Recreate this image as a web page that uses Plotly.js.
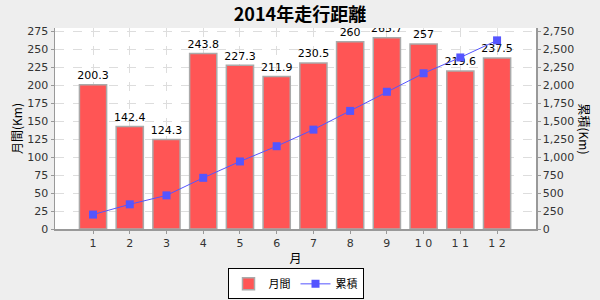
<!DOCTYPE html>
<html><head><meta charset="utf-8">
<script src="https://cdn.plot.ly/plotly-3.0.1.min.js"></script>
<style>html,body{margin:0;padding:0;background:#eeeeee;}</style>
</head><body>
<div id="chart" style="width:600px;height:300px;"></div>
<script>
const months = [1,2,3,4,5,6,7,8,9,10,11,12];
const monthLabels = ["1","2","3","4","5","6","7","8","9","1 0","1 1","1 2"];
const monthly = [200.3,142.4,124.3,243.8,227.3,211.9,230.5,260,265.7,257,219.6,237.5];
const cumulative = [200.3,342.7,467.0,710.8,938.1,1150.0,1380.5,1640.5,1906.2,2163.2,2382.8,2620.3];
const leftTicks = [0,25,50,75,100,125,150,175,200,225,250,275];
const rightTicks = [0,250,500,750,1000,1250,1500,1750,2000,2250,2500,2750];

const fontFam = "'DejaVu Sans', 'Noto Sans CJK JP', sans-serif";
const cjk = "'Noto Sans CJK JP', sans-serif";

const traces = [
  {type:'bar', name:'月間', x:months, y:monthly, width:0.74,
   marker:{color:'#ff5555', line:{color:'#aaaaaa', width:1.5}}, hoverinfo:'skip'},
  {type:'scatter', mode:'markers+text', x:months, y:monthly, text:monthly.map(String), textposition:'top center',
   marker:{size:3, opacity:0}, cliponaxis:true, showlegend:false,
   textfont:{size:11, color:'#000', family:fontFam}, hoverinfo:'skip'},
  {type:'scatter', mode:'lines+markers', name:'累積', x:months, y:cumulative, yaxis:'y2',
   line:{color:'#5555ff', width:1}, marker:{symbol:'square', size:8, color:'#5555ff'}}
];

const layout = {
  width:600, height:300,
  paper_bgcolor:'#eeeeee', plot_bgcolor:'#ffffff',
  margin:{l:55, r:64, t:28, b:71, autoexpand:false},
  font:{family:fontFam, size:11, color:'#333'},
  title:{text:'<b>2014年走行距離</b>', x:0.5, xanchor:'center', y:0.95, yanchor:'middle',
         font:{family:cjk, size:18, color:'#000'}},
  xaxis:{range:[-0.035,13.06], tickvals:months, ticktext:monthLabels, showline:true, linecolor:'#999', linewidth:1.5,
         showgrid:true, gridcolor:'#dddddd', griddash:'dash', zeroline:false, ticks:'outside', ticklen:3, tickcolor:'#999',
         tickfont:{size:11, color:'#333'}, mirror:false,
         title:{text:'月', font:{family:cjk, size:12, color:'#000'}, standoff:6}},
  yaxis:{range:[0,279.2], tickvals:leftTicks, showline:true, linecolor:'#999', linewidth:1.5,
         showgrid:true, gridcolor:'#dddddd', griddash:'dash', zeroline:false, ticks:'outside', ticklen:3, tickcolor:'#999',
         tickfont:{size:11, color:'#333'},
         title:{text:'月間(Km)', font:{family:cjk, size:12, color:'#000'}, standoff:2}},
  yaxis2:{range:[0,2792], tickvals:rightTicks, tickformat:',d', overlaying:'y', side:'right', showline:true, linecolor:'#999', linewidth:1.5,
         showgrid:false, zeroline:false, ticks:'outside', ticklen:3, tickcolor:'#999', tickfont:{size:11, color:'#333'}},
  showlegend:true,
  legend:{orientation:'h', x:0.5, xanchor:'center', y:-0.35, yanchor:'bottom', bgcolor:'#ffffff', bordercolor:'#000', borderwidth:1,
          font:{family:cjk, size:11, color:'#000'}, itemwidth:30, tracegroupgap:0},
  annotations:[{text:'累積(Km)', xref:'paper', yref:'paper', x:1, xshift:48, y:0.5, textangle:90, showarrow:false,
                font:{family:cjk, size:12, color:'#000'}, xanchor:'center', yanchor:'middle'}],
  bargap:0.2
};
Plotly.newPlot('chart', traces, layout, {displayModeBar:false, staticPlot:true});
</script>
</body></html>
